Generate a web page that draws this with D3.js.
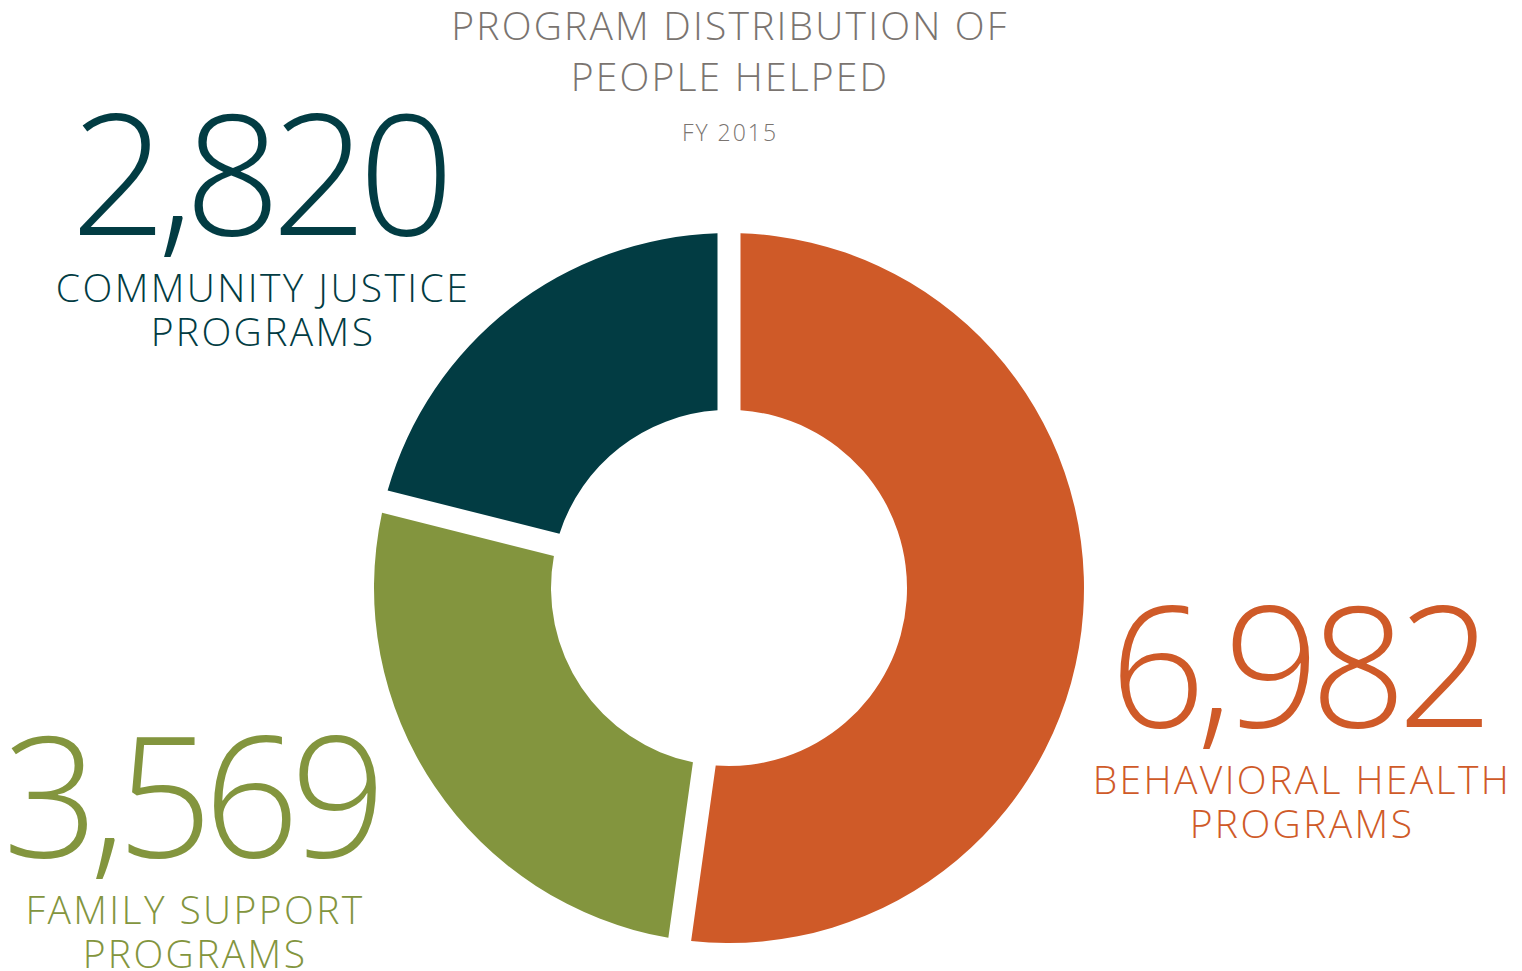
<!DOCTYPE html>
<html>
<head>
<meta charset="utf-8">
<script src="https://cdn.jsdelivr.net/npm/d3@7"></script>
<style>
  html, body { margin: 0; padding: 0; background: #fff; }
  svg { display: block; font-family: "Open Sans", "Noto Sans", sans-serif; font-weight: 300; }
  .title { fill: #7a7470; font-size: 39px; letter-spacing: 2.2px; }
  .sub { fill: #7a7470; font-size: 23px; letter-spacing: 2px; }
  .big { font-size: 168px; letter-spacing: -9px; }
  .lab { font-size: 39px; letter-spacing: 2.4px; }
</style>
</head>
<body>
<div id="chart"></div>
<script>
(function () {
  "use strict";

  // ── Data ──────────────────────────────────────────
  const programs = ["BEHAVIORAL HEALTH", "FAMILY SUPPORT", "COMMUNITY JUSTICE"];
  const peopleHelped = [6982, 3569, 2820];
  const colors = ["#cf5a28", "#83953e", "#023c43"];
  const titleLines = ["PROGRAM DISTRIBUTION OF", "PEOPLE HELPED"];
  const subtitle = "FY 2015";

  // ── Layout ────────────────────────────────────────
  const width = 1522, height = 971;
  const cx = 729, cy = 588;
  const outerR = 355, innerR = 178;
  const GAP = 23;
  // label anchor (center x, number baseline) per program
  const labelPos = [
    { x: 1301, y: 727 },
    { x: 194, y: 857 },
    { x: 262, y: 235 }
  ];

  const svg = d3.select("#chart").append("svg")
    .attr("width", width)
    .attr("height", height)
    .attr("viewBox", `0 0 ${width} ${height}`);

  const data = programs.map((p, i) => ({ name: p, value: peopleHelped[i], color: colors[i], pos: labelPos[i] }));

  const pie = d3.pie().sort(null).value(d => d.value);
  const arc = d3.arc()
    .innerRadius(innerR)
    .outerRadius(outerR)
    .padRadius(outerR)
    .padAngle(GAP / outerR);

  svg.append("g")
    .attr("transform", `translate(${cx},${cy})`)
    .selectAll("path")
    .data(pie(data))
    .join("path")
    .attr("d", arc)
    .attr("fill", d => d.data.color);

  // Title
  svg.selectAll("text.title")
    .data(titleLines)
    .join("text")
    .attr("class", "title")
    .attr("x", cx + 1)
    .attr("y", (d, i) => 40 + i * 51)
    .attr("text-anchor", "middle")
    .text(d => d);

  svg.append("text")
    .attr("class", "sub")
    .attr("x", cx + 1)
    .attr("y", 141)
    .attr("text-anchor", "middle")
    .text(subtitle);

  // Value labels
  const fmt = d3.format(",");
  const g = svg.selectAll("g.lbl")
    .data(data)
    .join("g")
    .attr("class", "lbl")
    .attr("fill", d => d.color)
    .attr("text-anchor", "middle");

  // negative letter-spacing pulls the centred text left; nudge back
  g.append("text")
    .attr("class", "big")
    .attr("x", d => d.pos.x - 4)
    .attr("y", d => d.pos.y)
    .text(d => fmt(d.value));

  g.append("text")
    .attr("class", "lab")
    .attr("x", d => d.pos.x + 1)
    .attr("y", d => d.pos.y + 67)
    .text(d => d.name);

  g.append("text")
    .attr("class", "lab")
    .attr("x", d => d.pos.x + 1)
    .attr("y", d => d.pos.y + 111)
    .text("PROGRAMS");
})();
</script>
</body>
</html>
